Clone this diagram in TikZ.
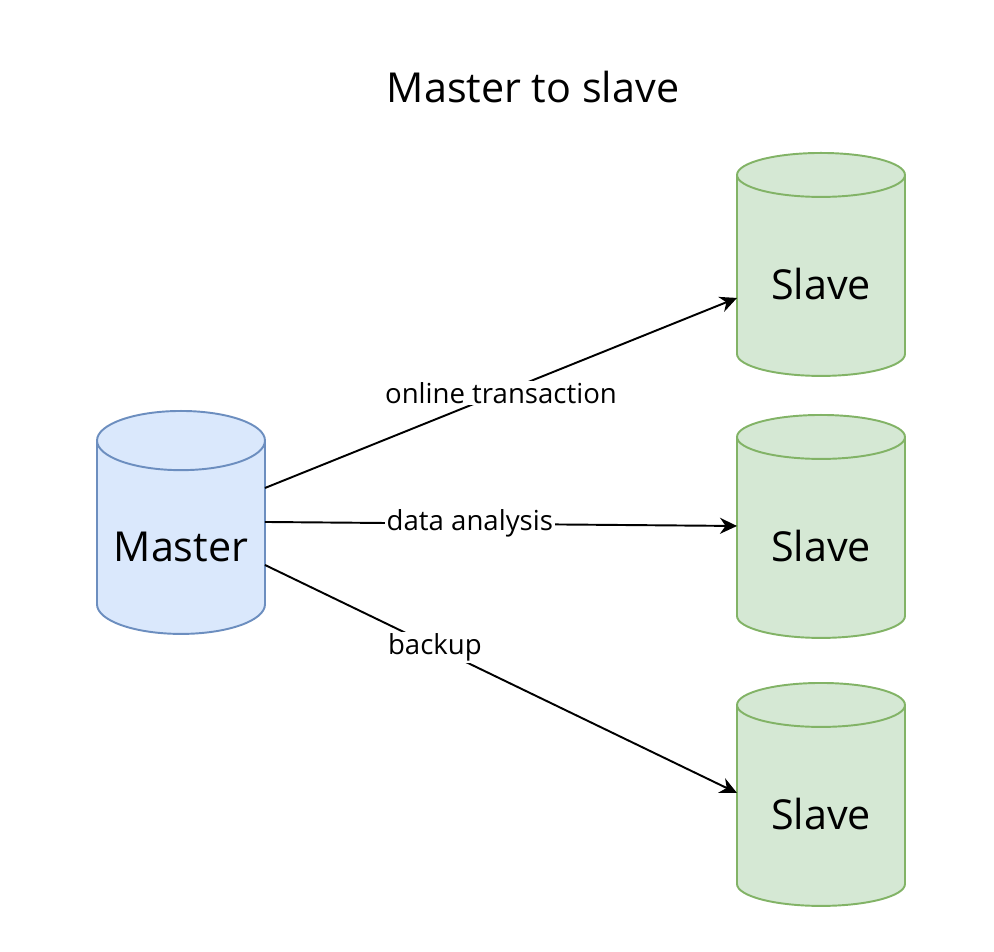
\documentclass[tikz,border=0pt]{standalone}
\usepackage{fontspec}
\setmainfont{Open Sans}
\usetikzlibrary{arrows.meta,positioning,shapes.geometric}
\definecolor{masterfill}{HTML}{DAE8FC}
\definecolor{masterline}{HTML}{6C8EBF}
\definecolor{slavefill}{HTML}{D5E8D4}
\definecolor{slaveline}{HTML}{82B366}

\begin{document}
\begin{tikzpicture}[
  x=0.02cm, y=-0.02cm,
  db/.style={cylinder, shape border rotate=90, aspect=0.44, minimum width=3.36cm, minimum height=4.46cm, line width=1.1pt, inner sep=0pt, anchor=north, text height=0.96cm, text depth=0pt, font=\fontsize{23.5}{28}\selectfont},
  master/.style={db, draw=masterline, fill=masterfill},
  slave/.style={db, draw=slaveline, fill=slavefill},
  arrow/.style={-{Stealth[length=0.34cm, width=0.32cm]}, line width=1.1pt, draw=black},
  tag/.style={fill=white, inner sep=1pt, font=\fontsize{15.7}{19}\selectfont}
]
\useasboundingbox (0,0) rectangle (994,952);
\node[font=\fontsize{23.5}{28}\selectfont] (title) at (533,87) {Master to slave};
\node[master] (m) at (181,410) {Master};
\node[slave] (s1) at (821,152) {Slave};
\node[slave] (s2) at (821,414) {Slave};
\node[slave] (s3) at (821,682) {Slave};
% links from the master
\draw[arrow] ([xshift=1.68cm, yshift=-1.56cm]m.north) -- node[tag, pos=0.5] {online transaction} ([xshift=-1.68cm, yshift=-2.92cm]s1.north);
\draw[arrow] ([xshift=1.68cm, yshift=-2.24cm]m.north) -- node[tag, pos=0.434] {data analysis} ([xshift=-1.68cm, yshift=-2.24cm]s2.north);
\draw[arrow] ([xshift=1.68cm, yshift=-3.1cm]m.north) -- node[tag, pos=0.36] {backup} ([xshift=-1.68cm, yshift=-2.22cm]s3.north);
\end{tikzpicture}
\end{document}
